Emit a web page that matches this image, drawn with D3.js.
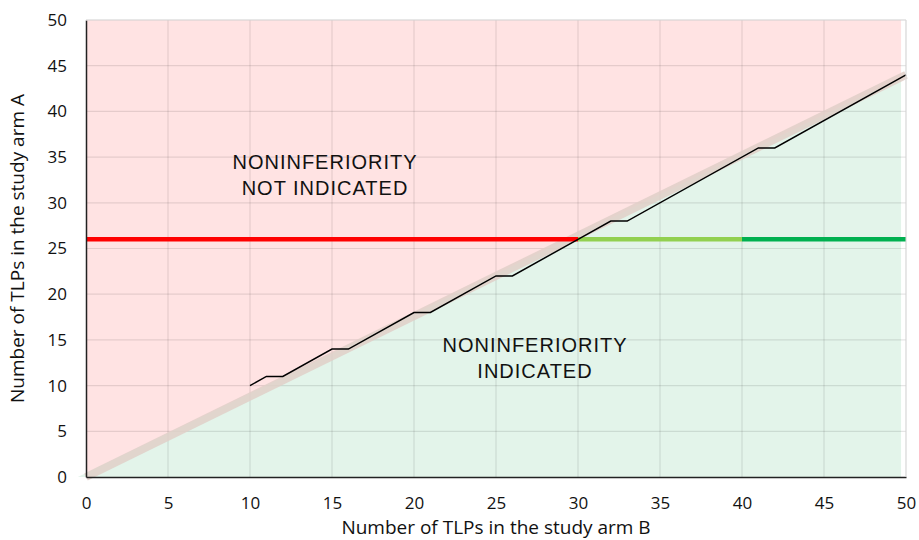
<!DOCTYPE html>
<html>
<head>
<meta charset="utf-8">
<script src="https://cdn.jsdelivr.net/npm/d3@7"></script>
<style>
  body { margin: 0; background: #fff; }
</style>
</head>
<body>
<div id="chart"></div>
<script>
// data
const stepX = [10, 11, 12, 15, 16, 20, 21, 25, 26, 30, 32, 33, 41, 42, 50];
const stepY = [10, 11, 11, 14, 14, 18, 18, 22, 22, 26, 28, 28, 36, 36, 44];
const boundaryX = [0, 50];
const boundaryY = [0, 44];
const thresholdY = 26;
const segStart = [0, 30, 40];
const segEnd = [30, 40, 50];
const segColors = ["#FF0000", "#92D050", "#00B050"];
const ticks = [0, 5, 10, 15, 20, 25, 30, 35, 40, 45, 50];

const width = 919, height = 540;
const margin = { left: 86, right: 13, top: 20, bottom: 63 };
const font = "'Open Sans', sans-serif";

const svg = d3.select("#chart").append("svg")
    .attr("width", width)
    .attr("height", height);

const x = d3.scaleLinear().domain([0, 50]).range([margin.left, width - margin.right]);
const y = d3.scaleLinear().domain([0, 50]).range([height - margin.bottom, margin.top]);

const boundary = boundaryX.map((d, i) => [d, boundaryY[i]]);

// shaded regions
svg.append("path")
    .attr("d", d3.line()([[x(0), y(0)], [x(0), y(50)], [x(49.7), y(50)], [x(49.7), y(44 * 49.7 / 50)]]))
    .attr("fill", "#FFE3E3");
svg.append("path")
    .attr("d", d3.line()([[x(-0.5), y(0)], [x(49.7), y(44 * 49.7 / 50)], [x(49.7), y(0)]]))
    .attr("fill", "#E3F4EA");

// grid
const grid = svg.append("g");
grid.selectAll(".gx").data(ticks.slice(1)).enter().append("line")
    .attr("x1", d => x(d)).attr("x2", d => x(d))
    .attr("y1", y(0)).attr("y2", y(50))
    .attr("stroke", "rgba(0,0,0,0.1)").attr("stroke-width", 1.2);
grid.selectAll(".gy").data(ticks.slice(1)).enter().append("line")
    .attr("x1", x(0)).attr("x2", x(50))
    .attr("y1", d => y(d)).attr("y2", d => y(d))
    .attr("stroke", "rgba(0,0,0,0.1)").attr("stroke-width", 1.2);

// boundary band
svg.append("path")
    .datum(boundary)
    .attr("d", d3.line().x(d => x(d[0])).y(d => y(d[1])))
    .attr("stroke", "#E0CFC8")
    .attr("stroke-opacity", 0.85)
    .attr("stroke-width", 8)
    .attr("fill", "none");

// threshold segments
svg.selectAll(".seg").data(segStart).enter().append("line")
    .attr("x1", d => x(d))
    .attr("x2", (d, i) => x(segEnd[i]))
    .attr("y1", y(thresholdY)).attr("y2", y(thresholdY))
    .attr("stroke", (d, i) => segColors[i])
    .attr("stroke-width", 4.5);

// step line
svg.append("path")
    .datum(stepX.map((d, i) => [d, stepY[i]]))
    .attr("d", d3.line().x(d => x(d[0])).y(d => y(d[1])))
    .attr("stroke", "#000")
    .attr("stroke-width", 1.5)
    .attr("fill", "none");

// axes
const xAxis = svg.append("g")
    .attr("transform", `translate(0,${y(0)})`)
    .call(d3.axisBottom(x).tickValues(ticks).tickSize(0).tickPadding(20));
const yAxis = svg.append("g")
    .attr("transform", `translate(${x(0)},0)`)
    .call(d3.axisLeft(y).tickValues(ticks).tickSize(0).tickPadding(19));
[xAxis, yAxis].forEach(a => {
    a.select(".domain").attr("stroke", "#222").attr("stroke-width", 1.5);
    a.selectAll("text").attr("font-size", 17).attr("fill", "#111")
        .attr("font-family", font);
});

// light frame on top and right
svg.append("line").attr("x1", x(0)).attr("x2", x(50)).attr("y1", y(50)).attr("y2", y(50))
    .attr("stroke", "#ddd").attr("stroke-width", 1);
svg.append("line").attr("x1", x(50)).attr("x2", x(50)).attr("y1", y(50)).attr("y2", y(0))
    .attr("stroke", "#ddd").attr("stroke-width", 1);

// titles
svg.append("text")
    .attr("x", (x(0) + x(50)) / 2).attr("y", 534)
    .attr("text-anchor", "middle").attr("font-size", 19).attr("fill", "#111")
    .attr("font-family", font)
    .text("Number of TLPs in the study arm B");
svg.append("text")
    .attr("transform", `translate(24,${(y(0) + y(50)) / 2}) rotate(-90)`)
    .attr("text-anchor", "middle").attr("font-size", 19).attr("fill", "#111")
    .attr("font-family", font)
    .text("Number of TLPs in the study arm A");

// annotations
const notes = [
    { cx: 325, cy: 169, lines: ["NONINFERIORITY", "NOT INDICATED"] },
    { cx: 535, cy: 352, lines: ["NONINFERIORITY", "INDICATED"] }
];
notes.forEach(n => {
    svg.append("text")
        .attr("x", n.cx).attr("y", n.cy)
        .attr("text-anchor", "middle")
        .attr("font-family", "'Liberation Sans', Arial, sans-serif")
        .attr("font-size", 20).attr("letter-spacing", 1).attr("fill", "#111")
        .selectAll("tspan").data(n.lines).enter().append("tspan")
        .attr("x", n.cx).attr("dy", (d, i) => i === 0 ? 0 : 26)
        .text(d => d);
});
</script>
</body>
</html>
